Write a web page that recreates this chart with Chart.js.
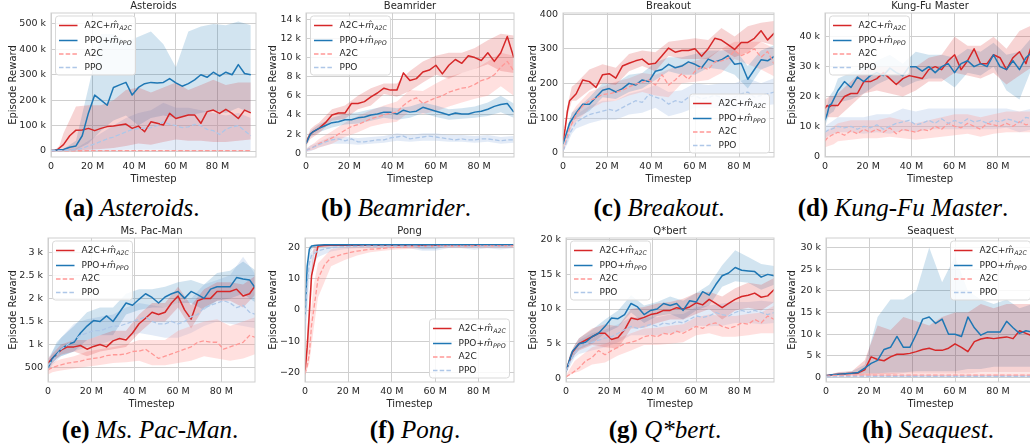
<!DOCTYPE html>
<html>
<head>
<meta charset="utf-8">
<script src="https://cdn.jsdelivr.net/npm/chart.js@4.4.1/dist/chart.umd.min.js"></script>
<style>
  html, body { margin: 0; padding: 0; background: #fff; overflow: hidden; }
  #fig { position: relative; width: 1030px; height: 446px; overflow: hidden; background: #fff; }
  #fig canvas { position: absolute; }
  .cap { position: absolute; font-family: 'Liberation Serif', 'Times New Roman', serif; font-size: 25px;
         line-height: 25px; color: #000; white-space: nowrap; transform: translateX(-50%); }
  .cap b { font-weight: bold; }
  .cap i { font-style: italic; }
</style>
</head>
<body>
<div id="fig">
  <div class="cap" style="left:132px;top:195px"><b>(a)</b> <i>Asteroids</i>.</div>
  <div class="cap" style="left:396px;top:195px"><b>(b)</b> <i>Beamrider</i>.</div>
  <div class="cap" style="left:659px;top:195px"><b>(c)</b> <i>Breakout</i>.</div>
  <div class="cap" style="left:903px;top:195px"><b>(d)</b> <i>Kung-Fu Master</i>.</div>
  <div class="cap" style="left:150px;top:417px"><b>(e)</b> <i>Ms. Pac-Man</i>.</div>
  <div class="cap" style="left:415px;top:417px"><b>(f)</b> <i>Pong</i>.</div>
  <div class="cap" style="left:665px;top:417px"><b>(g)</b> <i>Q*bert</i>.</div>
  <div class="cap" style="left:928px;top:417px"><b>(h)</b> <i>Seaquest</i>.</div>
</div>
<script>
// x positions (million timesteps) of the mean curves and of the shaded bands
const timesteps = [0,1,2,3,6,9,12,15,18,21,24,27,30,33,36,39,42,45,48,51,54,57,60,63,66,69,72,75,78,81,84,87,90,93,96];
const bandTimesteps = [0,2,4,6,12,18,24,30,36,42,48,54,60,66,72,78,84,90,96];
const xTicks = [0, 20, 40, 60, 80];

// Asteroids (k)
const astYTicks = [0, 100, 200, 300, 400, 500];
const astA2CM = [2,2,3,5,25,60,82,83,89,80,89,96,98,102,106,89,98,76,115,109,102,148,128,135,142,142,109,155,161,148,164,148,128,161,150];
const astPPOM = [2,2,3,4,6,15,20,60,150,220,200,180,250,260,270,220,250,265,270,268,270,285,268,255,265,280,300,290,310,295,310,300,340,305,300];
const astA2C = [0,0.5,0.5,0.5,0.8,1,1,1,1.2,1.2,1.2,1.2,1.3,1.3,1.3,1.3,1.4,1.4,1.4,1.4,1.5,1.5,1.5,1.5,1.5,1.5,1.5,1.5,1.5,1.5,1.5,1.5,1.5,1.5,1.5];
const astPPO = [1,1,1,1,2,3,5,10,20,28,38,48,55,65,75,85,88,90,92,100,115,105,100,92,95,105,100,85,80,65,85,95,100,80,60];
const astA2CMLo = [0,0,0,0,2,5,8,12,20,30,25,35,45,40,40,35,35,40,45];
const astA2CMHi = [3,5,20,70,175,180,180,200,240,250,230,250,270,240,260,280,260,270,270];
const astPPOMLo = [0,0,0,0,5,30,80,120,140,100,130,140,130,140,150,160,150,170,150];
const astPPOMHi = [3,3,5,8,40,250,460,460,430,450,470,420,330,470,490,500,495,510,495];
const astA2CLo = [0,0,0,0,0,0,0,0,0,0,0,0,0,0,0,0,0,0,0];
const astA2CHi = [1,2,2,2,3,3,3,3,3,3,3,3,3,3,3,3,3,3,3];
const astPPOLo = [0,0,0,0,0,0,0,2,5,5,5,5,3,3,3,3,3,3,3];
const astPPOHi = [2,2,2,3,10,40,70,100,130,150,160,190,170,170,160,150,140,150,130];

// Beamrider (k)
const beamYTicks = [0, 2, 4, 6, 8, 10, 12, 14];
const beamA2CM = [1.0,1.6,2.0,2.2,2.6,3.2,4.0,4.2,4.2,5.2,5.2,5.4,5.9,6.3,6.8,6.6,6.6,8.4,7.6,7.8,8.5,8.7,9.2,8.3,9.2,9.8,9.4,10.2,10.0,9.7,10.5,9.6,10.5,12.2,10.0];
const beamPPOM = [1.0,1.5,2.0,2.2,2.6,2.9,3.2,3.3,3.5,3.5,3.7,3.8,4.0,4.1,4.3,4.3,4.1,4.5,4.3,4.4,4.8,4.6,4.4,4.2,4.0,4.2,4.1,4.1,4.3,4.4,4.6,4.9,5.1,5.2,4.3];
const beamA2C = [0.3,0.4,0.5,0.6,1.0,1.3,1.6,2.0,2.4,2.8,3.0,3.3,3.6,3.8,4.0,4.2,4.3,5.0,5.5,5.8,5.2,5.5,5.8,6.0,6.4,6.6,6.8,6.9,7.2,7.6,7.8,8.2,9.0,9.6,8.6];
const beamPPO = [0.3,0.4,0.5,0.6,0.9,1.2,1.4,1.5,1.3,1.5,1.2,1.2,1.3,1.4,1.4,1.6,1.7,1.8,1.5,1.6,1.7,1.8,1.7,1.6,1.5,1.4,1.5,1.4,1.4,1.5,1.5,1.4,1.3,1.4,1.4];
const beamA2CMLo = [0.7,1.5,1.8,2.1,3.4,3.6,4.6,5.0,6.2,5.9,6.5,7.4,8.2,7.8,8.4,8.8,9.3,8.6,8.4];
const beamA2CMHi = [1.3,2.5,2.9,3.2,4.6,5.0,6.0,6.8,7.3,7.3,8.6,9.6,10.2,10.5,10.5,11.0,11.8,12.5,12.3];
const beamPPOMLo = [0.8,1.7,2.0,2.2,2.7,3.0,3.1,3.4,3.7,3.5,3.7,4.2,3.8,3.5,3.6,3.7,3.9,4.3,3.7];
const beamPPOMHi = [1.2,2.3,2.7,3.0,3.7,4.1,4.3,4.6,4.9,4.7,4.9,5.3,5.0,4.6,4.7,4.9,5.3,6.0,5.2];
const beamA2CLo = [0.2,0.3,0.4,0.6,1.0,1.7,2.2,2.8,3.1,3.3,4.4,4.1,4.4,4.9,5.3,5.7,6.0,7.0,6.0];
const beamA2CHi = [0.4,0.8,1.1,1.5,2.3,3.2,3.9,4.5,5.0,5.4,6.6,6.5,7.3,8.0,8.4,8.8,9.6,10.5,10.2];
const beamPPOLo = [0.1,0.2,0.4,0.6,1.0,1.0,0.9,1.0,1.1,1.3,1.2,1.3,1.3,1.2,1.2,1.1,1.2,1.0,1.1];
const beamPPOHi = [0.5,0.8,1.0,1.2,1.8,1.7,1.6,1.7,1.8,2.1,1.9,2.1,2.1,1.9,1.9,1.8,1.9,1.7,1.8];

// Breakout
const brkYTicks = [0, 100, 200, 300, 400];
const brkA2CM = [30,70,120,150,170,210,205,188,225,228,215,250,258,265,270,255,258,280,302,290,295,295,300,278,300,330,325,312,298,318,318,330,352,325,345];
const brkPPOM = [25,45,65,85,115,140,140,160,180,185,175,185,200,195,210,205,235,240,255,245,250,262,255,245,270,262,268,280,255,258,212,240,268,265,278];
const brkA2C = [5,25,50,70,110,135,150,158,168,170,175,180,190,198,203,210,195,225,195,210,228,212,235,248,240,262,265,272,295,280,288,300,275,292,255];
const brkPPO = [5,20,40,55,88,100,110,115,120,125,120,130,140,150,145,168,160,155,140,150,145,160,165,155,160,165,160,150,160,170,175,160,165,170,175];
const brkA2CMLo = [25,105,150,150,180,200,195,235,250,235,280,270,270,270,300,275,290,320,310];
const brkA2CMHi = [35,135,190,200,240,255,245,285,295,290,320,325,330,325,360,335,365,375,380];
const brkPPOMLo = [20,55,90,100,120,160,155,175,185,210,235,225,225,245,240,225,185,240,255];
const brkPPOMHi = [30,75,115,125,160,200,200,225,230,260,275,275,285,295,295,300,250,295,310];
const brkA2CLo = [3,35,75,90,125,145,150,165,175,165,160,200,205,210,230,270,255,240,220];
const brkA2CHi = [8,70,115,135,175,190,205,215,230,225,240,255,265,275,300,320,320,320,300];
const brkPPOLo = [3,25,55,70,85,95,95,110,115,130,105,115,130,130,130,125,140,135,140];
const brkPPOHi = [8,55,90,110,135,150,150,170,180,195,175,180,200,195,200,200,215,200,215];

// Kung-Fu Master (k)
const kfYTicks = [0, 10, 20, 30, 40];
const kfA2CM = [16,17,16.5,17,17,20,21,21,25,25,26,28,26,24,26,27,26.5,26,29,30,29,32,34,29,32,36,31,31,34,33,29,33,35,31,38];
const kfPPOM = [12,14,17,17.5,22,25,23,26.5,25,27,28,27,29.5,28,27,30,30,28.5,30,28,30,31,28,31,32,30,31,30,34,30,29,32,29,33,35];
const kfA2C = [5,6,6.5,7,8,7,8.5,7.5,9,8,9,8,9.5,7.5,9,8.5,8,9,8.5,10,9,11,10,9.5,11,10,9,11,10.5,10,11,10,11.5,10.5,11];
const kfPPO = [8,8.5,9,9,10,9.5,10,9,10,9.5,10.5,9,10,11,11.5,12,10.5,11,12,11,12.5,11,12,11,12.5,11.5,12,11,12,11.5,12.5,12,11,13,12.5];
const kfA2CMLo = [13,13,13,13,17,21,22,21,20,22,25,25,28,27,26,28,24,27,30];
const kfA2CMHi = [19,20,20,21,25,29,30,30,30,30,33,34,40,37,37,40,36,42,44];
const kfPPOMLo = [10,14,15,18,19,21,24,26,23,25,26,26,23,28,27,30,22,19,30];
const kfPPOMHi = [14,20,22,26,28,30,32,34,31,35,34,34,33,36,35,38,34,35,40];
const kfA2CLo = [3,3.5,4,5,5.5,6,6,6.5,6,5.5,6,6.5,7,7.5,6.5,7.5,8,8,8];
const kfA2CHi = [8,9,10,11,12,12,12,13,12,11,12,13,14,14,13,14,15,15,15];
const kfPPOLo = [6,7,7.5,8,8,7.5,8,7.5,8.5,8,9,9,9,9,9,9,9.5,8,9];
const kfPPOHi = [10,11,12,13,13,13,14,14,16,15,16,16,16,16,16,16,16,15,16];

// Ms. Pac-Man
const mpYTicks = [500, 1000, 1500, 2000, 2500, 3000];
const mpA2CM = [600,650,700,750,880,950,950,980,900,960,1000,950,1080,1130,1100,1250,1450,1570,1700,1650,1700,1900,2050,1750,1550,1950,2000,2000,2150,2150,2150,2200,2050,2100,2300];
const mpPPOM = [500,600,700,750,900,1000,1050,1250,1400,1520,1500,1620,1500,1700,1900,1850,1980,2100,2020,1900,2030,2100,2150,2000,2150,2080,2000,2200,2250,2250,2250,2450,2420,2400,2200];
const mpA2C = [450,480,500,520,560,600,620,640,680,700,720,760,780,780,800,850,860,900,800,700,750,800,850,900,950,1050,1080,1050,1050,900,950,1000,1050,1200,1150];
const mpPPO = [550,600,650,700,900,1000,1100,1200,1250,1300,1300,1350,1400,1400,1450,1500,1550,1600,1500,1450,1450,1500,1450,1500,1600,1650,1800,1850,1900,1950,1900,1800,1850,1700,1650];
const mpA2CMLo = [500,600,700,780,850,750,850,900,950,1250,1500,1500,1800,1350,1800,1950,1950,1800,2100];
const mpA2CMHi = [700,800,900,1000,1100,1100,1200,1300,1300,1650,1900,1900,2250,1850,2200,2350,2350,2300,2500];
const mpPPOMLo = [420,600,700,750,850,1100,1200,1200,1650,1750,1800,1800,1900,1900,1750,1950,2000,2100,1900];
const mpPPOMHi = [600,850,1050,1150,1400,1700,1800,1800,2100,2200,2200,2250,2350,2400,2300,2550,2600,2800,2600];
const mpA2CLo = [350,400,420,440,480,520,560,600,620,650,550,550,600,650,750,700,650,700,800];
const mpA2CHi = [550,600,650,680,750,850,900,950,1000,1100,1100,1100,1300,1400,1500,1550,1400,1500,1600];
const mpPPOLo = [420,550,650,750,850,950,1000,1100,1150,1250,1200,1150,1150,1250,1400,1500,1450,1400,1350];
const mpPPOHi = [700,850,1000,1150,1450,1550,1600,1650,1800,1900,1850,1800,1900,2000,2300,2400,2500,2900,2500];

// Pong
const pongYTicks = [-20, -10, 0, 10, 20];
const pongA2CM = [-20,-12,-1,11,20.5,20.7,20.8,20.8,20.8,20.8,20.8,20.8,20.8,20.8,20.8,20.8,20.8,20.8,20.8,20.8,20.8,20.8,20.8,20.8,20.8,20.8,20.8,20.8,20.8,20.8,20.8,20.8,20.8,20.8,20.8];
const pongPPOM = [-2,14,19.5,20.5,20.8,20.9,20.9,20.9,20.9,20.9,20.9,20.9,20.9,20.9,20.9,20.9,20.9,20.9,20.9,20.9,20.9,20.9,20.9,20.9,20.9,20.9,20.9,20.9,20.9,20.9,20.9,20.9,20.9,20.9,20.9];
const pongA2C = [-20.5,-18,-14,-5,10,14.5,16.8,17.4,18,18.5,18.9,19.2,19.5,19.6,19.8,20,20.1,20.2,20.3,20.4,20.4,20.4,20.5,20.5,20.5,20.5,20.5,20.5,20.6,20.6,20.6,20.6,20.6,20.6,20.6];
const pongPPO = [-5,8,15,17.5,19,19.6,20,20.2,20.3,20.4,20.4,20.5,20.5,20.5,20.5,20.5,20.5,20.5,20.5,20.5,20.3,20.5,20.3,20.5,20.5,20.5,20.5,20.5,20.3,20.5,20.5,20.5,20.4,20.5,20.5];
const pongA2CMLo = [-21,-6,18,20.2,20.4,20.4,20.5,20.5,20.5,20.5,20.5,20.5,20.5,20.5,20.5,20.5,20.5,20.5,20.5];
const pongA2CMHi = [-19,4,21,21.1,21.1,21.1,21.1,21.1,21.1,21.1,21.1,21.1,21.1,21.1,21.1,21.1,21.1,21.1,21.1];
const pongPPOMLo = [-8,18,20.3,20.5,20.5,20.5,20.5,20.5,20.5,20.5,20.5,19.5,19.5,20.5,20.5,20.2,20.5,20.2,20.5];
const pongPPOMHi = [2,20.5,21,21.1,21.1,21.1,21.1,21.1,21.1,21.1,21.1,21.1,21.1,21.1,21.1,21.1,21.1,21.1,21.1];
const pongA2CLo = [-21,-17,-6,4,14,16,17.5,18.5,19,19.4,19.6,19.8,19.9,20,20,20,20,20,20];
const pongA2CHi = [-19.5,-6,8,15,19.5,20.2,20.5,20.7,20.8,21,21,21,21,21,21,21,21,21,21];
const pongPPOLo = [-12,10,15,17,18.8,19.5,19.8,19.8,19.8,19.8,19.8,19,19,19.8,19.8,19.3,19.8,19.4,19.8];
const pongPPOHi = [2,18,19.5,20,20.5,20.8,21,21,21,21,21,21,21,21,21,21,21,21,21];

// Q*bert (k)
const qbYTicks = [0, 5, 10, 15, 20];
const qbA2CM = [1,2,3,3.8,5,5.5,6,6.5,6.5,5.6,5.9,7,8.7,8.5,8.8,9.2,9.4,9.8,9.8,10.2,10,10.3,10.9,10.6,11.4,10.8,10.2,10.8,11.4,11.8,12,12.3,11.7,11.9,12.8];
const qbPPOM = [1,2,3,3.9,5,5.2,6,6.5,7.5,8.7,8.6,9.2,10.8,10.3,9.2,9.8,10,10.8,10.5,10.8,9.8,11.2,11,12.5,12,13.5,14.8,15.2,16,15.6,15.5,15.4,14.6,15,14.8];
const qbA2C = [0.2,0.4,0.6,0.8,1.5,2.5,3,4,3.4,4,4.5,5,5.2,5.5,6,6.2,6,6.5,6.3,6.8,6.5,7,7.5,7.2,7.8,8,7.5,7.2,7.5,8,7.8,8.5,8,9,8.5];
const qbPPO = [1,1.8,2.5,3,4.5,5,5.2,5.5,5.8,6,6.5,7,7.5,7.2,7.5,7.8,7.5,8,7.8,8.2,8,8.5,9,8.8,9,9.5,9.2,9,9.5,9.8,9.5,9.8,9.5,9.2,9.5];
const qbA2CMLo = [0.7,2.4,3.4,4,4.8,4.5,4.3,7.2,7.3,8,8.5,8.5,9.3,10,8.5,9.8,10.2,9.8,11];
const qbA2CMHi = [1.3,3.6,4.8,5.8,7.2,7.8,7.5,10,10.3,10.8,11,11.5,12.3,12.5,11.8,13,13.8,13.5,14.5];
const qbPPOMLo = [0.7,2.4,3.4,4.2,5,6.5,7.4,9.5,8,9,9.3,8.5,9.8,10.5,13.2,14,13.8,12.8,13.5];
const qbPPOMHi = [1.3,3.6,4.8,5.8,7,8.5,9.8,12,10.5,11,11.8,11.2,12.3,13.5,16.3,18.5,17.5,16.5,16.2];
const qbA2CLo = [0.1,0.5,0.8,1,2,2.3,3.3,4,4.8,4.8,5,5.2,6.2,6.5,6,6,6.2,6.5,6.5];
const qbA2CHi = [0.4,1.5,2.5,3,4.5,5,5.8,6.5,7.2,7.3,7.6,7.8,8.8,9.2,9,9,9.3,9.5,10.5];
const qbPPOLo = [0.7,1.8,3,3.5,4,4.5,5.2,6.2,6.2,6.2,6.5,6.7,7.6,7.5,7.6,8,8,7.8,8];
const qbPPOHi = [1.3,3,4.3,5.5,6.5,7,7.8,8.8,8.8,8.8,9.2,9.3,10.3,10.5,10.8,11,11,11.2,11];

// Seaquest (k)
const sqYTicks = [0, 5, 10, 15, 20, 25, 30];
const sqA2CM = [0.5,0.5,0.6,0.7,0.8,0.9,1,1.1,1.8,4.8,4.2,3.9,4.8,5.4,5.4,5.6,6,6.5,6.8,6.3,6.3,6.8,7.8,7,6,8.3,8.9,9.2,9,9.2,9.4,9,10.8,10.2,9.6];
const sqPPOM = [0.5,0.5,0.6,0.7,0.8,0.9,1,1.2,2.2,3.3,4,6.5,7,9.5,7,7,10,13.5,14,12.5,13.5,10,10,9.5,14,11.5,9.8,10.5,10.5,10.5,13,11.5,10.2,10.8,10.5];
const sqA2C = [0.3,0.4,0.4,0.5,0.5,0.5,0.6,0.6,0.6,0.6,0.6,0.6,0.6,0.6,0.6,0.6,0.6,0.6,0.6,0.6,0.6,0.6,0.6,0.6,0.6,0.6,0.6,0.6,0.6,0.6,0.6,0.6,0.6,0.6,0.6];
const sqPPO = [0.2,0.2,0.2,0.2,0.3,0.3,0.3,0.3,0.3,0.3,0.3,0.3,0.3,0.3,0.3,0.3,0.3,0.3,0.3,0.3,0.3,0.3,0.3,0.3,0.3,0.3,0.3,0.3,0.3,0.3,0.3,0.3,0.3,0.3,0.3];
const sqA2CMLo = [0.3,0.4,0.5,0.5,0.6,0.6,0.8,0.8,1,1,1,1,1,1,1.2,1.2,1.2,1.2,1.2];
const sqA2CMHi = [0.7,0.8,1,1.3,1.5,4,12,11,14,13,12,14,15,15,17,16,17,17,17];
const sqPPOMLo = [0.3,0.4,0.5,0.6,0.7,1,1,1.2,1.2,1.5,1.5,1.5,1.5,2,2,2.5,2.5,2.5,2.5];
const sqPPOMHi = [0.7,0.8,1,1.2,1.5,3,14,18,18,20,30,22,28,20,18,17,18,16,17];
const sqA2CLo = [0.2,0.2,0.3,0.3,0.3,0.3,0.3,0.3,0.3,0.3,0.3,0.3,0.3,0.3,0.3,0.3,0.3,0.3,0.3];
const sqA2CHi = [0.5,0.6,0.7,0.8,0.9,1,1,1,1,1,1,1,1,1,1,1,1,1,1];
const sqPPOLo = [0.1,0.1,0.1,0.1,0.1,0.1,0.1,0.1,0.1,0.1,0.1,0.1,0.1,0.1,0.1,0.1,0.1,0.1,0.1];
const sqPPOHi = [0.3,0.4,0.4,0.5,0.5,0.6,0.6,0.6,0.6,0.6,0.6,0.6,0.6,0.6,0.6,0.6,0.6,0.6,0.6];

const FONT = "'DejaVu Sans', sans-serif";
const TEXT = '#262626';
const GRID = '#cfcfcf';
const RED = '#d62728', BLUE = '#1f77b4', LRED = '#ff9896', LBLUE = '#aec7e8';
const DASH = [4.5, 2.2];

const legendRows = [
  { label: 'A2C+', sub: 'A2C', color: RED, dash: [] },
  { label: 'PPO+', sub: 'PPO', color: BLUE, dash: [] },
  { label: 'A2C', color: LRED, dash: DASH },
  { label: 'PPO', color: LBLUE, dash: DASH },
];
const legendRowY = [9.5, 24.5, 38, 51.5];

const kLabel = v => v === 0 ? '0' : v + ' k';
const mpLabel = v => v < 1000 ? String(v) : (v / 1000) + ' k';
const plainLabel = v => v < 0 ? '\u2212' + (-v) : String(v);

// matplotlib style frame round the plot area
const framePlugin = {
  id: 'frame',
  afterDatasetsDraw(chart) {
    const { ctx, chartArea: a } = chart;
    ctx.save();
    ctx.strokeStyle = GRID;
    ctx.lineWidth = 1;
    ctx.strokeRect(a.left, a.top, a.right - a.left, a.bottom - a.top);
    ctx.restore();
  }
};

// legend with the m-hat subscript labels
const legendPlugin = {
  id: 'mathLegend',
  afterDraw(chart, args, opts) {
    const { ctx, chartArea: a } = chart;
    const w = 80, h = 59;
    const x = opts.corner === 'tl' ? a.left + 4.5 : a.right - 4.5 - w;
    const y = opts.corner === 'br' ? a.bottom - 4 - h : a.top + 3;
    ctx.save();
    ctx.beginPath();
    ctx.roundRect(x, y, w, h, 3);
    ctx.fillStyle = 'rgba(255,255,255,0.85)';
    ctx.fill();
    ctx.strokeStyle = '#d9d9d9';
    ctx.lineWidth = 1;
    ctx.stroke();
    legendRows.forEach((r, i) => {
      const cy = y + legendRowY[i];
      ctx.beginPath();
      ctx.setLineDash(r.dash);
      ctx.strokeStyle = r.color;
      ctx.lineWidth = 1.5;
      ctx.moveTo(x + 3.5, cy);
      ctx.lineTo(x + 22, cy);
      ctx.stroke();
      ctx.setLineDash([]);
      ctx.fillStyle = TEXT;
      ctx.textBaseline = 'middle';
      ctx.textAlign = 'left';
      ctx.font = '9px ' + FONT;
      let tx = x + 29;
      ctx.fillText(r.label, tx, cy);
      if (r.sub) {
        tx += ctx.measureText(r.label).width;
        ctx.font = 'italic 9px ' + FONT;
        ctx.fillText('m\u0302', tx, cy);
        tx += ctx.measureText('m').width + 0.3;
        ctx.font = 'italic 6.3px ' + FONT;
        ctx.fillText(r.sub, tx, cy + 2.5);
      }
    });
    ctx.restore();
  }
};

const panels = [
  { title: 'Asteroids', cL: 7, top: 0, plotL: 51, plotR: 256, xMax: 98.5, yMin: -23.6, yMax: 543, yTicks: astYTicks, fmt: kLabel, legend: 'tl',
    lines: [astA2CM, astPPOM, astA2C, astPPO], bands: [[astA2CMLo, astA2CMHi], [astPPOMLo, astPPOMHi], [astA2CLo, astA2CHi], [astPPOLo, astPPOHi]] },
  { title: 'Beamrider', cL: 267, top: 0, plotL: 306, plotR: 514, xMax: 96.1, yMin: -0.39, yMax: 14.66, yTicks: beamYTicks, fmt: kLabel, legend: 'tl',
    lines: [beamA2CM, beamPPOM, beamA2C, beamPPO], bands: [[beamA2CMLo, beamA2CMHi], [beamPPOMLo, beamPPOMHi], [beamA2CLo, beamA2CHi], [beamPPOLo, beamPPOHi]] },
  { title: 'Breakout', cL: 527, top: 0, plotL: 563, plotR: 774, xMax: 95.9, yMin: -12.4, yMax: 403, yTicks: brkYTicks, fmt: plainLabel, legend: 'br',
    lines: [brkA2CM, brkPPOM, brkA2C, brkPPO], bands: [[brkA2CMLo, brkA2CMHi], [brkPPOMLo, brkPPOMHi], [brkA2CLo, brkA2CHi], [brkPPOLo, brkPPOHi]] },
  { title: 'Kung-Fu Master', cL: 786, top: 0, plotL: 825, plotR: 1035, xMax: 97.2, yMin: -0.3, yMax: 48, yTicks: kfYTicks, fmt: kLabel, legend: 'tl',
    lines: [kfA2CM, kfPPOM, kfA2C, kfPPO], bands: [[kfA2CMLo, kfA2CMHi], [kfPPOMLo, kfPPOMHi], [kfA2CLo, kfA2CHi], [kfPPOLo, kfPPOHi]] },
  { title: 'Ms. Pac-Man', cL: 7, top: 225, plotL: 48, plotR: 255, xMax: 95.5, yMin: 190, yMax: 3307, yTicks: mpYTicks, fmt: mpLabel, legend: 'tl',
    lines: [mpA2CM, mpPPOM, mpA2C, mpPPO], bands: [[mpA2CMLo, mpA2CMHi], [mpPPOMLo, mpPPOMHi], [mpA2CLo, mpA2CHi], [mpPPOLo, mpPPOHi]] },
  { title: 'Pong', cL: 267, top: 225, plotL: 305, plotR: 514, xMax: 96.3, yMin: -23.1, yMax: 23.1, yTicks: pongYTicks, fmt: plainLabel, legend: 'br',
    lines: [pongA2CM, pongPPOM, pongA2C, pongPPO], bands: [[pongA2CMLo, pongA2CMHi], [pongPPOMLo, pongPPOMHi], [pongA2CLo, pongA2CHi], [pongPPOLo, pongPPOHi]] },
  { title: 'Q*bert', cL: 527, top: 225, plotL: 566, plotR: 774, xMax: 95.9, yMin: -0.53, yMax: 20.25, yTicks: qbYTicks, fmt: kLabel, legend: 'tl',
    lines: [qbA2CM, qbPPOM, qbA2C, qbPPO], bands: [[qbA2CMLo, qbA2CMHi], [qbPPOMLo, qbPPOMHi], [qbA2CLo, qbA2CHi], [qbPPOLo, qbPPOHi]] },
  { title: 'Seaquest', cL: 786, top: 225, plotL: 826, plotR: 1035, xMax: 97.2, yMin: -1.0, yMax: 32.2, yTicks: sqYTicks, fmt: kLabel, legend: 'tr',
    lines: [sqA2CM, sqPPOM, sqA2C, sqPPO], bands: [[sqA2CMLo, sqA2CMHi], [sqPPOMLo, sqPPOMHi], [sqA2CLo, sqA2CHi], [sqPPOLo, sqPPOHi]] },
];

const pts = (xs, ys) => ys.map((y, i) => ({ x: xs[i], y }));

function lineDs(ys, color, dashed) {
  return {
    data: pts(timesteps, ys), borderColor: color, borderWidth: dashed ? 1.3 : 1.5,
    borderDash: dashed ? DASH : [], borderJoinStyle: 'round', pointRadius: 0, tension: 0, fill: false
  };
}

function bandDs(band, color) {
  return [
    { data: pts(bandTimesteps, band[0]), borderColor: 'rgba(0,0,0,0)', borderWidth: 0, pointRadius: 0, fill: false },
    { data: pts(bandTimesteps, band[1]), borderColor: 'rgba(0,0,0,0)', borderWidth: 0, pointRadius: 0, fill: '-1', backgroundColor: color }
  ];
}

const fig = document.getElementById('fig');
const H = 185;

panels.forEach(p => {
  const c = document.createElement('canvas');
  const W = Math.round(p.plotR + 1 - p.cL);
  c.width = W;
  c.height = H;
  c.style.left = p.cL + 'px';
  c.style.top = p.top + 'px';
  c.style.width = W + 'px';
  c.style.height = H + 'px';
  fig.appendChild(c);

  const [a2cM, ppoM, a2c, ppo] = p.lines;
  const datasets = [
    lineDs(ppo, LBLUE, true),
    lineDs(a2c, LRED, true),
    lineDs(ppoM, BLUE, false),
    lineDs(a2cM, RED, false),
    ...bandDs(p.bands[0], 'rgba(214,39,40,0.2)'),
    ...bandDs(p.bands[1], 'rgba(31,119,180,0.2)'),
    ...bandDs(p.bands[2], 'rgba(255,152,150,0.3)'),
    ...bandDs(p.bands[3], 'rgba(174,199,232,0.35)'),
  ];

  new Chart(c, {
    type: 'line',
    data: { datasets },
    options: {
      responsive: false,
      animation: false,
      devicePixelRatio: 1,
      layout: { padding: { left: 0, right: 1, top: 0, bottom: 0 } },
      plugins: {
        legend: { display: false },
        tooltip: { enabled: false },
        title: {
          display: true, text: p.title, fullSize: false, color: TEXT,
          font: { family: FONT, size: 10, weight: 'normal' }, padding: { top: 0, bottom: 1 }
        },
        mathLegend: { corner: p.legend }
      },
      scales: {
        x: {
          type: 'linear', min: 0, max: p.xMax,
          afterBuildTicks: s => { s.ticks = xTicks.map(v => ({ value: v })); },
          afterFit: s => { s.height = 28; },
          grid: { color: GRID, lineWidth: 1, drawTicks: false },
          border: { display: false },
          ticks: {
            color: TEXT, font: { family: FONT, size: 9.5 }, padding: 4, autoSkip: false, maxRotation: 0,
            callback: v => v === 0 ? '0' : v + ' M'
          },
          title: { display: true, text: 'Timestep', color: TEXT, font: { family: FONT, size: 10 }, padding: 0 }
        },
        y: {
          type: 'linear', min: p.yMin, max: p.yMax,
          afterBuildTicks: s => { s.ticks = p.yTicks.map(v => ({ value: v })); },
          afterFit: s => { s.width = p.plotL - p.cL; },
          grid: { color: GRID, lineWidth: 1, drawTicks: false },
          border: { display: false },
          ticks: { color: TEXT, font: { family: FONT, size: 9.5 }, padding: 5, autoSkip: false, callback: p.fmt },
          title: { display: true, text: 'Episode Reward', color: TEXT, font: { family: FONT, size: 10 }, padding: 0 }
        }
      }
    },
    plugins: [framePlugin, legendPlugin]
  });
});
</script>
</body>
</html>
